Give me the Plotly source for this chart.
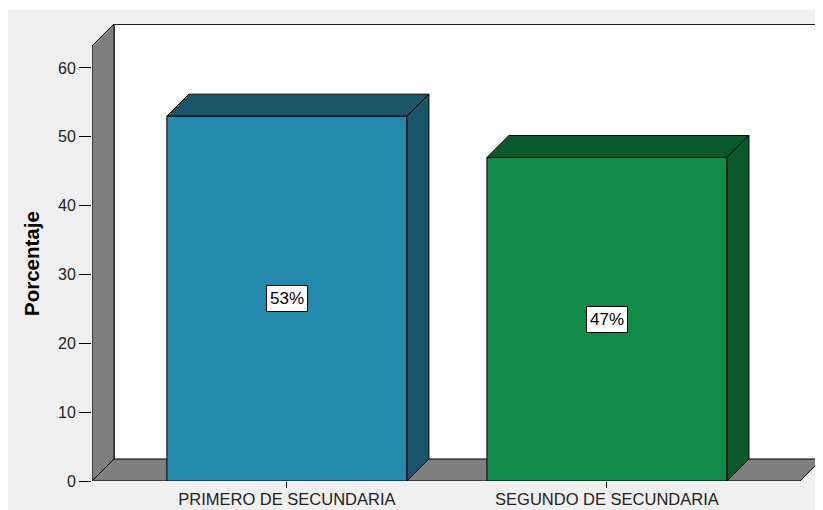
import plotly.graph_objects as go

categories = ["PRIMERO DE SECUNDARIA", "SEGUNDO DE SECUNDARIA"]
values = [53, 47]
labels = ["53%", "47%"]
front_colors = ["#2389AD", "#118C48"]
dark_colors = ["#19566A", "#0A582D"]
y_ticks = [0, 10, 20, 30, 40, 50, 60]

# page body has an 8px margin; figure sized to fill the rest of the window
W, H = 815, 502
ML, MR, MT, MB = 84, 1, 16, 29
X0, X1 = -0.609, 1.672
Y0, Y1 = 0, 66.39
DX = 22 / 320.0
DY = 22 / 6.883
BW = 0.75
FONT = "Arial, Liberation Sans, sans-serif"

fig = go.Figure()

xs = list(range(len(categories)))
fig.add_trace(go.Bar(x=xs, y=values, width=BW, marker=dict(color=front_colors, line=dict(color="black", width=1)),
                     hoverinfo="skip", showlegend=False))

for i, v in enumerate(values):
    c = xs[i]
    l, r = c - BW / 2, c + BW / 2
    fig.add_trace(go.Scatter(x=[l, l + DX, r + DX, r, l], y=[v, v + DY, v + DY, v, v], mode="lines",
                             fill="toself", fillcolor=dark_colors[i], line=dict(color="black", width=1),
                             hoverinfo="skip", showlegend=False))
    fig.add_trace(go.Scatter(x=[r, r + DX, r + DX, r, r], y=[0, DY, v + DY, v, 0], mode="lines",
                             fill="toself", fillcolor=dark_colors[i], line=dict(color="black", width=1),
                             hoverinfo="skip", showlegend=False))

pw = W - ML - MR
ph = H - MT - MB
def px(p):
    return (p - ML) / pw
def py(p):
    return (H - MB - p) / ph

shapes = []
shapes.append(dict(type="rect", xref="paper", yref="paper", x0=px(0), x1=px(W), y0=py(2), y1=py(0),
                   fillcolor="white", line=dict(width=0), layer="below"))
# back wall
shapes.append(dict(type="rect", xref="x", yref="y", x0=X0 + DX, x1=X1, y0=DY, y1=Y1,
                   fillcolor="white", line=dict(width=0), layer="below"))
shapes.append(dict(type="path", xref="x", yref="y",
                   path=f"M {X0+DX} {DY} L {X0+DX} {Y1-0.05} L {X1} {Y1-0.05}",
                   line=dict(color="#222222", width=1.5), layer="below"))
shapes.append(dict(type="line", xref="x", yref="y", x0=X1 - 0.002, x1=X1 - 0.002, y0=DY, y1=Y1,
                   line=dict(color="#AAAAAA", width=1), layer="below"))
# side wall
shapes.append(dict(type="path", xref="x", yref="y",
                   path=f"M {X0} 0 L {X0} {Y1-DY} L {X0+DX} {Y1} L {X0+DX} {DY} Z",
                   fillcolor="#7F7F7F", line=dict(color="black", width=1), layer="below"))
# floor
shapes.append(dict(type="path", xref="x", yref="y",
                   path=f"M {X0} 0 L {X0+DX} {DY} L {X1} {DY} L {X1-DX} 0 Z",
                   fillcolor="#7F7F7F", line=dict(color="black", width=1), layer="below"))

annotations = []
for i, v in enumerate(values):
    annotations.append(dict(x=xs[i], y=v / 2, xref="x", yref="y", text=labels[i], showarrow=False,
                            font=dict(family=FONT, size=17, color="black"),
                            bgcolor="white", bordercolor="black", borderwidth=1, borderpad=3))
annotations.append(dict(x=px(23), y=py(256), xref="paper", yref="paper", text="<b>Porcentaje</b>",
                        textangle=-90, showarrow=False, xanchor="center", yanchor="middle",
                        font=dict(family=FONT, size=20.5, color="black")))

fig.update_layout(
    width=W, height=H,
    margin=dict(l=ML, r=MR, t=MT, b=MB, autoexpand=False),
    paper_bgcolor="#F0F0F0", plot_bgcolor="rgba(0,0,0,0)",
    shapes=shapes, annotations=annotations,
    showlegend=False,
    xaxis=dict(range=[X0, X1], tickvals=xs, ticktext=categories, ticks="outside", ticklen=6,
               ticklabelstandoff=-3,
               tickcolor="black", tickwidth=1, showgrid=False, zeroline=False, showline=False,
               automargin=False,
               tickfont=dict(family=FONT, size=16.5, color="#222222")),
    yaxis=dict(range=[Y0, Y1], tickvals=y_ticks, ticks="outside", ticklen=12, tickcolor="black",
               tickwidth=1, showgrid=False, zeroline=False, showline=False,
               automargin=False,
               tickfont=dict(family=FONT, size=16, color="#222222")),
)

fig.write_html("out.html")
